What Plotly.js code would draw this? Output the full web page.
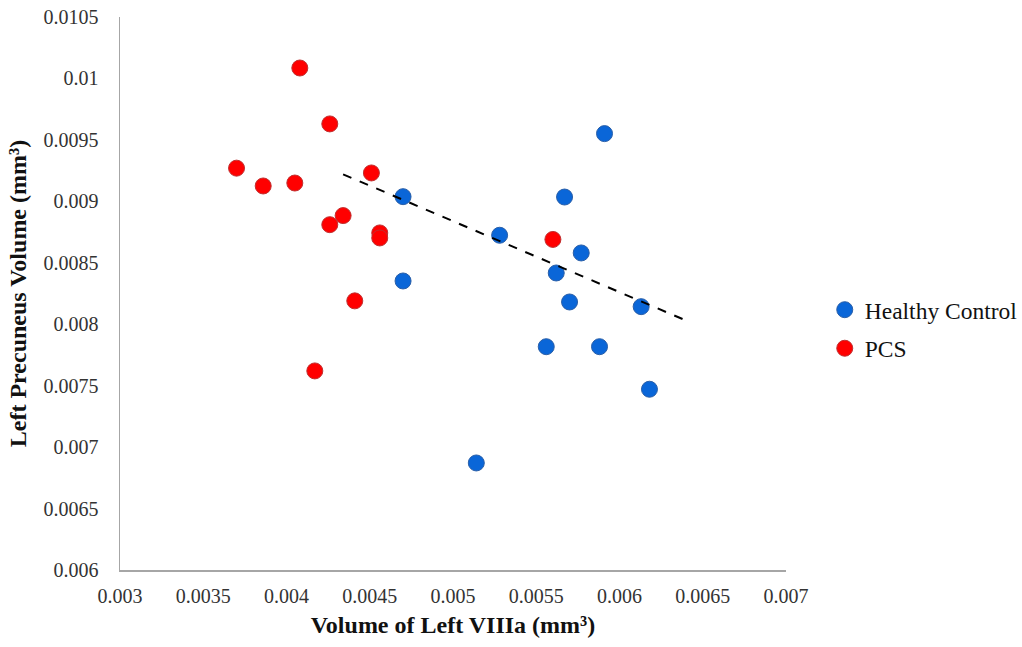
<!DOCTYPE html>
<html>
<head>
<meta charset="utf-8">
<script src="https://cdn.plot.ly/plotly-3.0.1.min.js"></script>
<style>html,body{margin:0;padding:0;background:#fff;}#chart{width:1022px;height:647px;}</style>
</head>
<body>
<div id="chart"></div>
<script>
const hcX = [0.00470, 0.00591, 0.00567, 0.00528, 0.00577, 0.00562, 0.00470, 0.00570, 0.00613, 0.00556, 0.00588, 0.00618, 0.00514];
const hcY = [0.009038, 0.009551, 0.009035, 0.008724, 0.008580, 0.008417, 0.008352, 0.008181, 0.008143, 0.007817, 0.007817, 0.007471, 0.006871];
const pcsX = [0.00408, 0.00426, 0.00370, 0.00386, 0.00405, 0.00451, 0.00426, 0.00434, 0.00456, 0.00456, 0.00441, 0.00417, 0.00560];
const pcsY = [0.010085, 0.009630, 0.009270, 0.009125, 0.009149, 0.009231, 0.008810, 0.008884, 0.008743, 0.008702, 0.008190, 0.007620, 0.008690];
const trendX = [0.00434, 0.00640];
const trendY = [0.00922, 0.00803];
const xTickVals = [0.003, 0.0035, 0.004, 0.0045, 0.005, 0.0055, 0.006, 0.0065, 0.007];
const xTickText = ["0.003", "0.0035", "0.004", "0.0045", "0.005", "0.0055", "0.006", "0.0065", "0.007"];
const yTickVals = [0.006, 0.0065, 0.007, 0.0075, 0.008, 0.0085, 0.009, 0.0095, 0.01, 0.0105];
const yTickText = ["0.006", "0.0065", "0.007", "0.0075", "0.008", "0.0085", "0.009", "0.0095", "0.01", "0.0105"];

const serif = "Liberation Serif, Times New Roman, serif";
const traces = [
  {x: hcX, y: hcY, type: 'scatter', mode: 'markers', name: 'Healthy Control', legendgroup: 'hc',
   marker: {color: '#0a66d8', size: 16, line: {color: '#2a5fa8', width: 1}}},
  {x: pcsX, y: pcsY, type: 'scatter', mode: 'markers', name: 'PCS', legendgroup: 'pcs',
   marker: {color: '#ff0000', size: 16, line: {color: '#c03030', width: 1}}},
  {x: trendX, y: trendY, type: 'scatter', mode: 'lines', showlegend: false,
   line: {color: '#000', width: 2, dash: 'dash'}}
];
const layout = {
  width: 1022, height: 647,
  margin: {l: 120, r: 236, t: 17, b: 77},
  paper_bgcolor: '#fff', plot_bgcolor: '#fff',
  font: {family: serif, size: 20, color: '#222'},
  showlegend: true,
  legend: {xref: 'container', yref: 'container', x: 0.807, y: 0.555, xanchor: 'left', yanchor: 'top',
    font: {family: serif, size: 23.5, color: '#111'}, tracegroupgap: 5, borderwidth: 0},
  xaxis: {range: [0.003, 0.007], tickmode: 'array', tickvals: xTickVals, ticktext: xTickText,
    showgrid: false, zeroline: false, showline: true, linecolor: '#a6a6a6', linewidth: 1.5,
    ticks: '', ticklabelstandoff: 7, tickfont: {family: serif, size: 20, color: '#333'},
    title: {text: 'Volume of Left VIIIa (mm³)', font: {family: serif, size: 24, color: '#111', weight: 'bold'}, standoff: 10}},
  yaxis: {range: [0.006, 0.0105], tickmode: 'array', tickvals: yTickVals, ticktext: yTickText,
    showgrid: false, zeroline: false, showline: true, linecolor: '#a6a6a6', linewidth: 1.5,
    ticks: '', ticklabelstandoff: 16, tickfont: {family: serif, size: 20, color: '#333'},
    title: {text: 'Left Precuneus Volume (mm³)', font: {family: serif, size: 24, color: '#111', weight: 'bold'}, standoff: 10}}
};
Plotly.newPlot('chart', traces, layout, {displayModeBar: false, staticPlot: true});
</script>
</body>
</html>
